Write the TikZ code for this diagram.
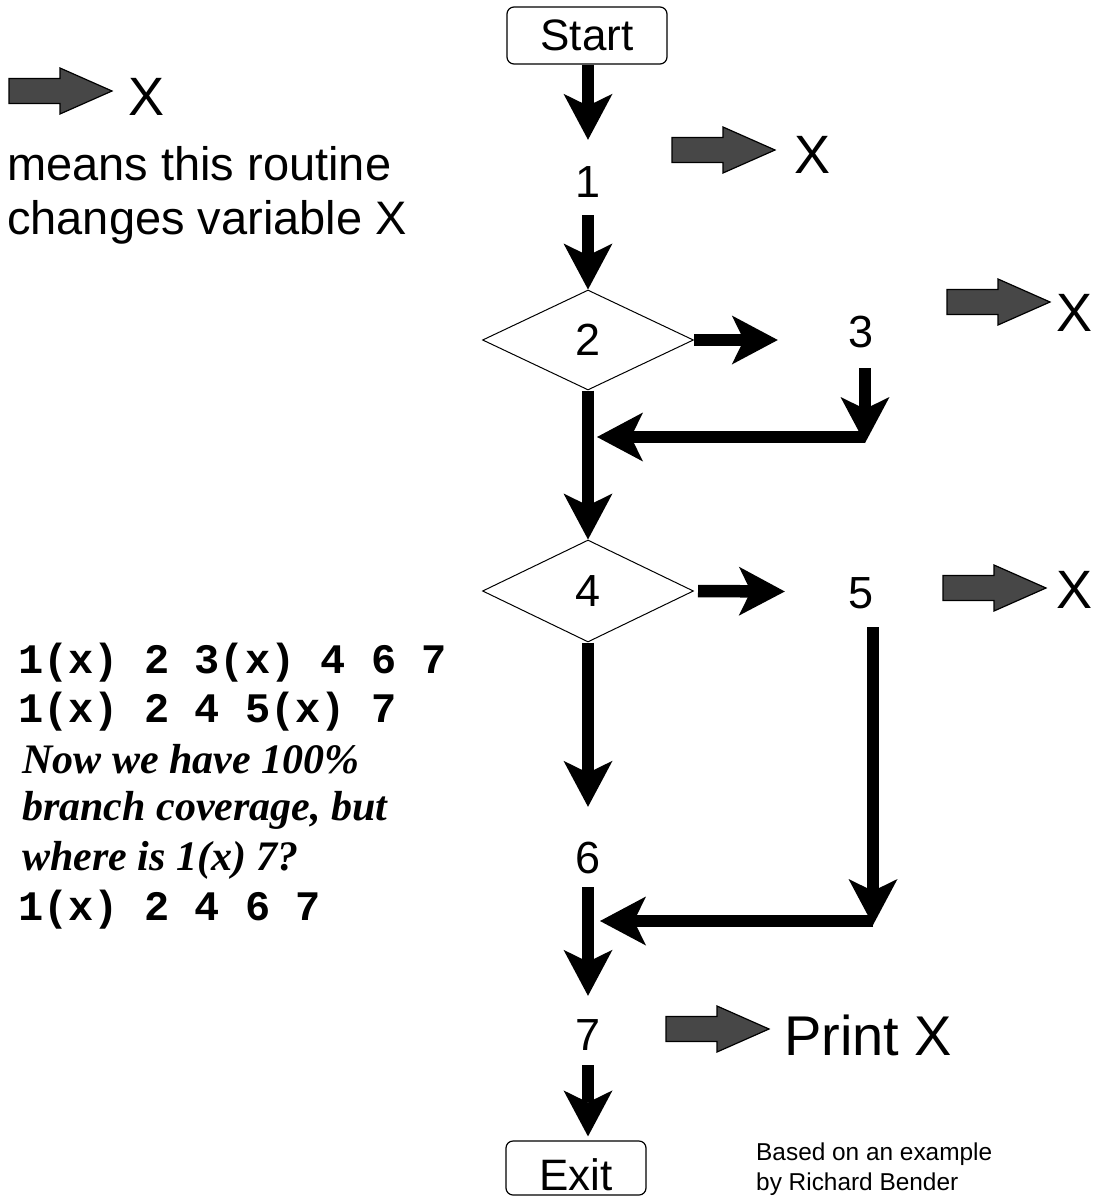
\documentclass[tikz,border=0pt]{standalone}
\usepackage{fontspec}
\setmainfont{Liberation Sans}
\newfontfamily\codefont{Liberation Mono}
\newfontfamily\noteserif{Liberation Serif}
\usetikzlibrary{arrows.meta,shapes.geometric}
\newcommand\setfs[1]{\fontsize{#1}{#1}\selectfont}
\begin{document}
\begin{tikzpicture}[x=1pt,y=-1pt,
  blk/.style={line width=12.5pt,-{Stealth[length=46pt,width=49pt,inset=12pt,line width=0pt]}},
  num/.style={font=\setfs{45}, inner sep=0pt},
  termbox/.style={draw, line width=1.2pt, rounded corners=7pt, inner sep=0pt, font=\setfs{44}},
  dia/.style={draw, diamond, line width=1pt, inner sep=0pt, font=\setfs{45}},
  xlab/.style={font=\setfs{54}, inner sep=0pt},
  leg/.style={anchor=base west, inner sep=0pt, font=\setfs{47}},
  codeline/.style={anchor=base west, inner sep=0pt, font=\codefont\bfseries\setfs{42}},
  noteline/.style={anchor=base west, inner sep=0pt, font=\noteserif\bfseries\itshape\setfs{42}},
  credit/.style={anchor=base west, inner sep=0pt, font=\setfs{24.4}},
  garrow/.pic={\path[draw=black, line width=1.2pt, fill=black!72]
     (0,-12.5) -- (51,-12.5) -- (51,-23) -- (103,0) -- (51,23) -- (51,12.5) -- (0,12.5) -- cycle;}
]
\useasboundingbox (0,0) rectangle (1103,1196);

% legend
\pic at (9,91) {garrow};
\node[xlab] (x0) at (147,97) {X};
\node[leg] (leg1) at (7,180) {means this routine};
\node[leg] (leg2) at (7,234) {changes variable X};

% flow nodes
\node[termbox, minimum width=160pt, text height=44pt, text depth=13pt] (start) at (587,35.5) {Start};
\node[num, text height=57pt, text depth=18pt] (n1) at (588,177.5) {1};
\node[dia, minimum width=211pt, minimum height=100pt] (d2) at (588,340) {2};
\node[num, minimum width=166pt, text height=35pt, text depth=21pt] (n3) at (861,340) {3};
\node[dia, minimum width=211pt, minimum height=102pt] (d4) at (588,591) {4};
\node[num, minimum width=152pt, text height=52pt, text depth=19pt] (n5) at (861,591.5) {5};
\node[num, text height=66pt, text depth=14pt] (n6) at (588,847) {6};
\node[num, text height=54pt, text depth=15pt] (n7) at (588,1030.5) {7};
\node[termbox, minimum width=140pt, text height=49pt, text depth=5pt] (exit) at (576,1168) {Exit};

\coordinate (c3) at (865,437);
\coordinate (j3) at (597,437);
\coordinate (c5) at (873,921);
\coordinate (j5) at (600,921);

% connectors
\draw[blk] (n1.north |- start.south) -- (n1.north);
\draw[blk] (n1.south) -- (d2.north);
\draw[blk] (d2.east) -- (n3.west);
\draw[blk] ([xshift=4pt]n3.south) -- ([yshift=-6pt]c3);
\draw[blk] (c3) -- (j3);
\draw[blk] (d2.south) -- (d4.north);
\draw[blk] ([xshift=4pt]d4.east) -- (n5.west);
\draw[blk] ([xshift=12pt]n5.south) -- ([yshift=-4pt]c5);
\draw[blk] (c5) -- (j5);
\draw[blk] (d4.south) -- (n6.north);
\draw[blk] (n6.south) -- (n7.north);
\draw[blk, shorten >=4pt] (n7.south) -- (n7.south |- exit.north);

% change markers
\pic at (672,150) {garrow};
\node[xlab] (x1) at (812,155) {X};
\pic at (947,302) {garrow};
\node[xlab] (x3) at (1074,313) {X};
\pic at (943,588) {garrow};
\node[xlab] (x5) at (1074,590) {X};
\pic at (666,1029) {garrow};
\node[anchor=base west, inner sep=0pt, font=\setfs{56}] (px) at (784,1055) {Print X};

% paths text
\node[codeline] (p1) at (18,673) {1(x) 2 3(x) 4 6 7};
\node[codeline] (p2) at (18,722) {1(x) 2 4 5(x) 7};
\node[noteline] (q1) at (22,773) {Now we have 100\%};
\node[noteline] (q2) at (22,820) {branch coverage, but};
\node[noteline] (q3) at (22,870) {where is 1(x) 7?};
\node[codeline] (p3) at (18,920) {1(x) 2 4 6 7};

% credit
\node[credit] (cr1) at (756,1160) {Based on an example};
\node[credit] (cr2) at (756,1190) {by Richard Bender};
\end{tikzpicture}
\end{document}
